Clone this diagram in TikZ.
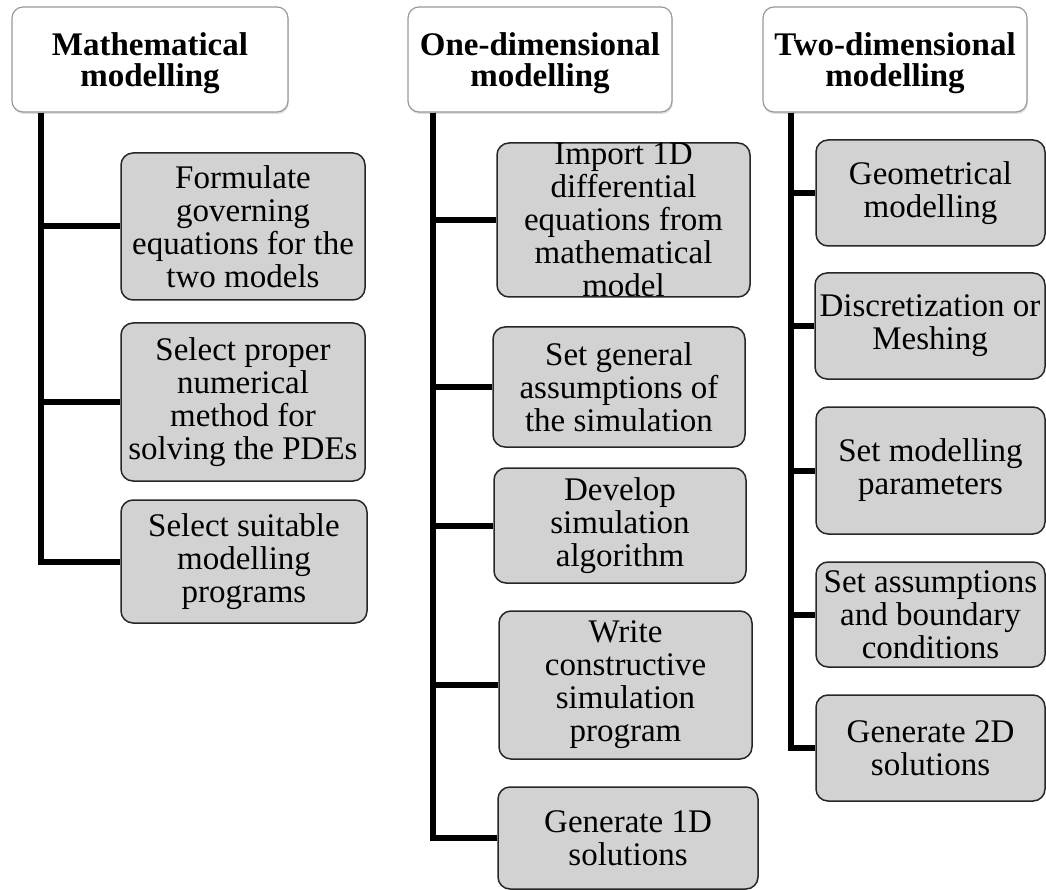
\documentclass[tikz,border=0pt]{standalone}
\usepackage{fontspec}
\setmainfont{Liberation Serif}
\usetikzlibrary{shadows}
\tikzset{
  hdr/.style={draw=black!40, line width=1.2pt, fill=white, rounded corners=11pt,
    inner sep=0pt, drop shadow={shadow xshift=0.8pt, shadow yshift=-2pt, opacity=0.25}},
  hdrtxt/.style={inner sep=0pt, align=center, font=\fontsize{33}{31}\selectfont\bfseries},
  sub/.style={draw=black!85, line width=1.5pt, fill=gray!35, rounded corners=12pt,
    inner sep=0pt, align=center, font=\fontsize{33}{33}\selectfont},
  txt/.style={inner sep=0pt, align=center, font=\fontsize{33}{33}\selectfont},
  tree/.style={line width=6pt, line join=miter, draw=black}
}
\begin{document}
\begin{tikzpicture}[x=1pt,y=1pt]
\useasboundingbox (0,0) rectangle (1046,-890);

% Column 1
\node[hdr, minimum width=276pt, minimum height=105pt] (h1) at (150,-59.5) {};
\node[hdrtxt] (ht1) at ([yshift=-4pt]h1.center) {Mathematical\\modelling};
\node[sub, minimum width=244pt, minimum height=147pt] (c11) at (243,-226.5) {Formulate\\governing\\equations for the\\two models};
\node[sub, minimum width=244pt, minimum height=158pt] (c12) at (243,-402) {Select proper\\numerical\\method for\\solving the PDEs};
\node[sub, minimum width=246pt, minimum height=123pt] (c13) at (244,-561.5) {Select suitable\\modelling\\programs};
\coordinate (s1) at ([xshift=30pt]h1.south west);
\draw[tree] (s1) |- (c13.west);
\draw[tree] (s1) |- (c11.west);
\draw[tree] (s1) |- (c12.west);

% Column 2
\node[hdr, minimum width=264pt, minimum height=105pt] (h2) at (540,-59.5) {};
\node[hdrtxt] (ht2) at ([yshift=-4pt]h2.center) {One-dimensional\\modelling};
\node[sub, minimum width=253pt, minimum height=154pt] (c21) at (623.5,-220) {};
\node[txt] (t21) at (c21.center) {Import 1D\\differential\\equations from\\mathematical\\model};
\node[sub, minimum width=252pt, minimum height=120pt] (c22) at (619,-387) {Set general\\assumptions of\\the simulation};
\node[sub, minimum width=252pt, minimum height=115pt] (c23) at (620,-525.5) {Develop\\simulation\\algorithm};
\node[sub, minimum width=253pt, minimum height=148pt] (c24) at (625.5,-685) {Write\\constructive\\simulation\\program};
\node[sub, minimum width=260pt, minimum height=102pt] (c25) at (628,-838) {Generate 1D\\solutions};
\coordinate (s2) at ([xshift=26pt]h2.south west);
\draw[tree] (s2) |- (c25.west);
\draw[tree] (s2) |- (c21.west);
\draw[tree] (s2) |- (c22.west);
\draw[tree] (s2) |- (c23.west);
\draw[tree] (s2) |- (c24.west);

% Column 3
\node[hdr, minimum width=264pt, minimum height=105pt] (h3) at (895,-59.5) {};
\node[hdrtxt] (ht3) at ([yshift=-4pt]h3.center) {Two-dimensional\\modelling};
\node[sub, minimum width=229pt, minimum height=106pt] (c31) at (930.5,-193) {Geometrical\\modelling};
\node[sub, minimum width=230pt, minimum height=106pt] (c32) at (930,-326) {Discretization or\\Meshing};
\node[sub, minimum width=229pt, minimum height=127pt] (c33) at (930.5,-470.5) {Set modelling\\parameters};
\node[sub, minimum width=229pt, minimum height=105pt] (c34) at (930.5,-614.5) {Set assumptions\\and boundary\\conditions};
\node[sub, minimum width=229pt, minimum height=106pt] (c35) at (930.5,-748) {Generate 2D\\solutions};
\coordinate (s3) at ([xshift=29pt]h3.south west);
\draw[tree] (s3) |- (c35.west);
\draw[tree] (s3) |- (c31.west);
\draw[tree] (s3) |- (c32.west);
\draw[tree] (s3) |- (c33.west);
\draw[tree] (s3) |- (c34.west);
\end{tikzpicture}
\end{document}
